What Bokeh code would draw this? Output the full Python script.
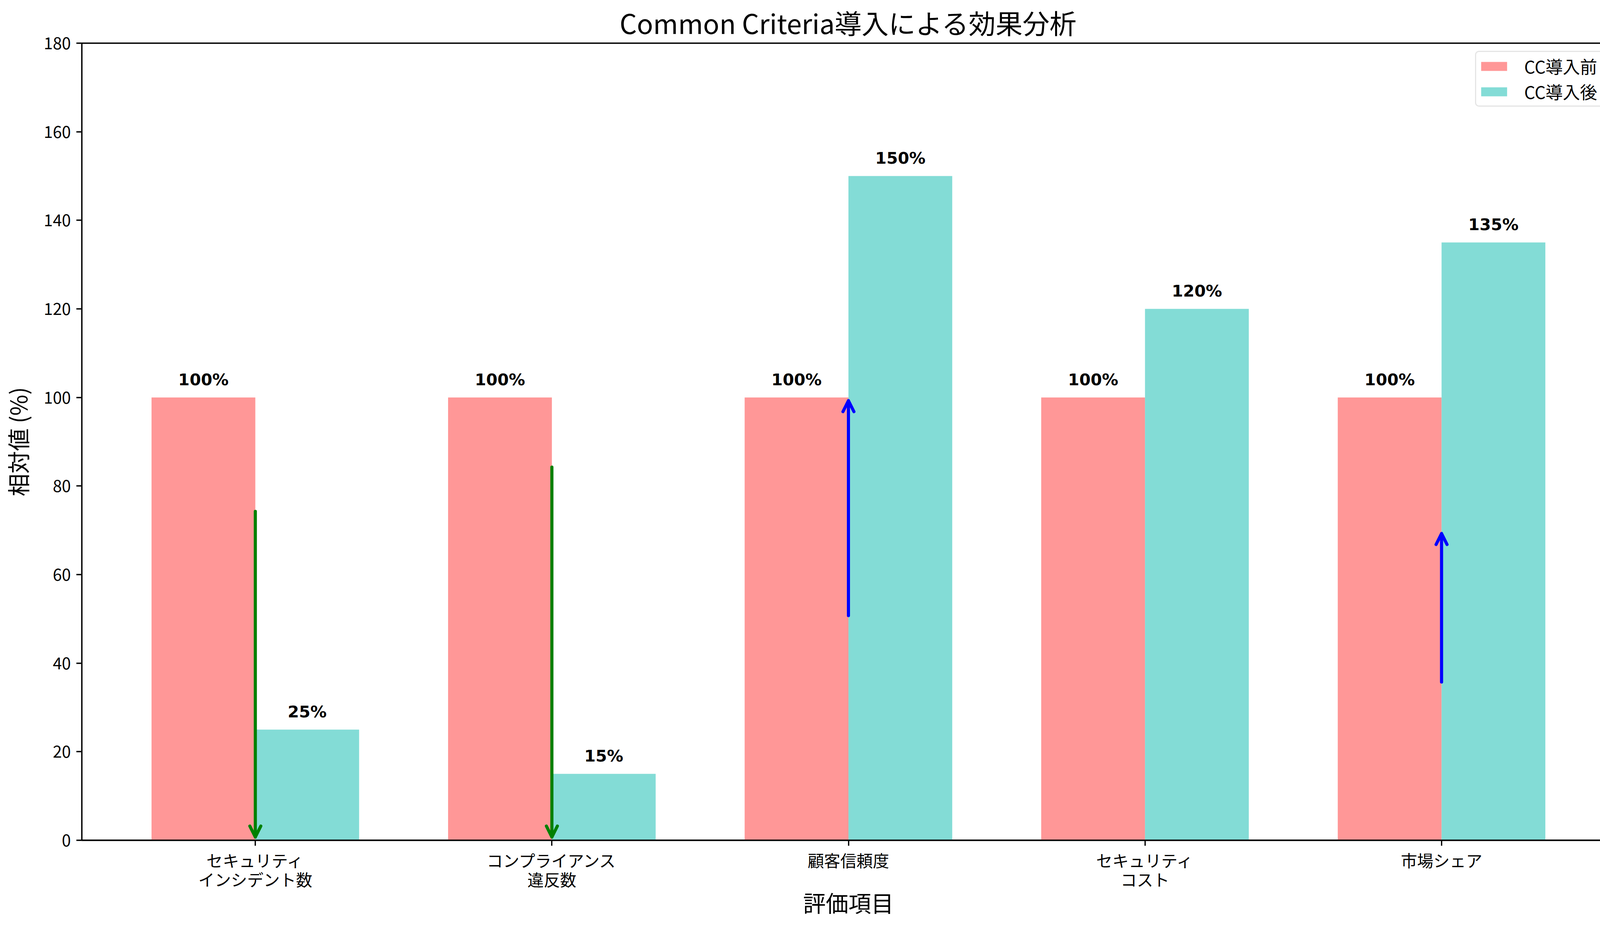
from bokeh.plotting import figure
from bokeh.models import (Range1d, FixedTicker, ColumnDataSource, Arrow, OpenHead,
                          Legend)
from bokeh.core.properties import value
from bokeh.embed import file_html
from bokeh.resources import INLINE

# ---- data ----
categories = ["セキュリティ\nインシデント数", "コンプライアンス\n違反数", "顧客信頼度",
              "セキュリティ\nコスト", "市場シェア"]
before_vals = [100, 100, 100, 100, 100]
after_vals = [25, 15, 150, 120, 135]
series_names = ["CC導入前", "CC導入後"]
y_ticks = [0, 20, 40, 60, 80, 100, 120, 140, 160, 180]
arrow_cat = [0, 1, 2, 4]
arrow_from = [75, 85, 50, 35]
arrow_to = [0, 0, 100, 70]

title_text = "Common Criteria導入による効果分析"
x_label = "評価項目"
y_label = "相対値 (%)"

# ---- styling ----
JP = "Noto Sans CJK JP"
PX_PER_UNIT = 2040 / 180.0
bar_w = 0.35
n = len(categories)
xs = list(range(n))

p = figure(frame_width=3925, frame_height=2040,
           min_border_left=207, min_border_right=21,
           min_border_top=98, min_border_bottom=221,
           x_range=Range1d(-0.585, n - 1 + 0.585), y_range=Range1d(0, 180),
           output_backend="svg", toolbar_location=None, title=title_text,
           background_fill_color="white", border_fill_color="white")

p.title.align = "center"
p.title.text_font = JP
p.title.text_font_size = "69px"
p.title.text_font_style = "normal"
p.title.text_color = "black"
p.title.standoff = 8

p.xgrid.visible = False
p.ygrid.visible = False
p.outline_line_color = "black"
p.outline_line_width = 3.3
p.outline_line_alpha = 1.0

src_before = ColumnDataSource(dict(x=[x - bar_w / 2 for x in xs], top=before_vals,
                                   label=[f"{v}%" for v in before_vals]))
src_after = ColumnDataSource(dict(x=[x + bar_w / 2 for x in xs], top=after_vals,
                                  label=[f"{v}%" for v in after_vals]))

r1 = p.vbar(x="x", top="top", width=bar_w, bottom=0, source=src_before,
            fill_color="#FF6B6B", fill_alpha=0.7, line_color=None)
r2 = p.vbar(x="x", top="top", width=bar_w, bottom=0, source=src_after,
            fill_color="#4ECDC4", fill_alpha=0.7, line_color=None)

for src in (src_before, src_after):
    p.text(x="x", y="top", text="label", source=src,
           text_font=value("DejaVu Sans"), text_font_style="bold",
           text_font_size="41.7px", text_align="center",
           text_baseline="alphabetic", y_offset=-46, text_color="black")

# arrows (shrunk by ~2pt at each end like matplotlib annotate)
shrink = 8.3 / PX_PER_UNIT
down = dict(xs=[], ys=[], xe=[], ye=[])
up = dict(xs=[], ys=[], xe=[], ye=[])
for c, a, b in zip(arrow_cat, arrow_from, arrow_to):
    d = 1 if b > a else -1
    tgt = up if b > a else down
    tgt["xs"].append(c)
    tgt["xe"].append(c)
    tgt["ys"].append(a + d * shrink)
    tgt["ye"].append(b - d * shrink)

for data, col in ((down, "green"), (up, "blue")):
    p.add_layout(Arrow(end=OpenHead(size=28, line_color=col, line_width=8,
                                    line_cap="round", line_join="round"),
                       x_start="xs", y_start="ys", x_end="xe", y_end="ye",
                       source=ColumnDataSource(data), line_color=col,
                       line_width=8, line_cap="round"))

# axes
p.xaxis.ticker = FixedTicker(ticks=xs)
p.xaxis.major_label_overrides = {i: c for i, c in enumerate(categories)}
p.yaxis.ticker = FixedTicker(ticks=y_ticks)
for ax in (p.xaxis[0], p.yaxis[0]):
    ax.axis_line_color = "black"
    ax.axis_line_width = 3.3
    ax.major_tick_line_color = "black"
    ax.major_tick_line_width = 3.3
    ax.major_tick_out = 14
    ax.major_tick_in = 0
    ax.minor_tick_line_color = None
    ax.major_label_text_font = JP
    ax.major_label_text_font_size = "41.7px"
    ax.major_label_text_color = "black"
    ax.axis_label_text_font = JP
    ax.axis_label_text_font_size = "58px"
    ax.axis_label_text_font_style = "normal"
    ax.axis_label_text_color = "black"

p.xaxis.axis_label = x_label
p.yaxis.axis_label = y_label
p.xaxis.major_label_text_line_height = 0.82
p.xaxis.major_label_standoff = 6
p.yaxis.major_label_standoff = 14
p.xaxis.axis_label_standoff = -16
p.yaxis.axis_label_standoff = 22

legend = Legend(items=[(series_names[0], [r1]), (series_names[1], [r2])],
                location="top_right")
legend.margin = 20
legend.padding = 4
legend.spacing = 1
legend.glyph_width = 83
legend.glyph_height = 29
legend.label_standoff = 36
legend.label_width = 205
legend.label_text_font = JP
legend.label_text_font_size = "44px"
legend.label_text_color = "black"
legend.border_line_color = "#cccccc"
legend.border_line_width = 3.3
legend.border_radius = 10
legend.background_fill_alpha = 0.8
p.add_layout(legend)

open("out.html", "w").write(file_html(p, INLINE))
